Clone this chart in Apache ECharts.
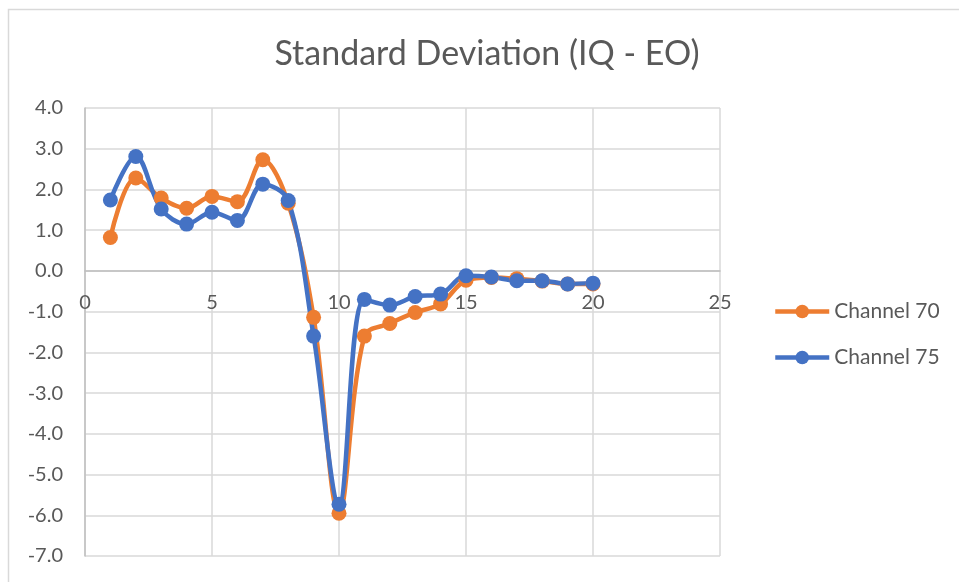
<!DOCTYPE html>
<html>
<head>
<meta charset="utf-8">
<script src="https://cdn.jsdelivr.net/npm/echarts@6/dist/echarts.min.js"></script>
<style>
  html, body { margin: 0; padding: 0; background: #ffffff; }
  #chart { width: 959px; height: 582px; }
</style>
</head>
<body>
<div id="chart"></div>
<script>
// Sample index along the horizontal axis
const samples = [1, 2, 3, 4, 5, 6, 7, 8, 9, 10, 11, 12, 13, 14, 15, 16, 17, 18, 19, 20];

// Standard deviation (IQ - EO) per channel
const channel70 = [0.82, 2.28, 1.79, 1.54, 1.83, 1.70, 2.73, 1.66, -1.14, -5.95,
                   -1.60, -1.29, -1.02, -0.81, -0.23, -0.16, -0.19, -0.25, -0.32, -0.32];
const channel75 = [1.74, 2.81, 1.52, 1.15, 1.44, 1.24, 2.13, 1.73, -1.60, -5.73,
                   -0.70, -0.84, -0.63, -0.57, -0.12, -0.15, -0.24, -0.24, -0.32, -0.30];

const seriesNames = ['Channel 70', 'Channel 75'];
const seriesColors = ['#ED7D31', '#4472C4'];

const FONT = 'Lato, "Open Sans", sans-serif';
const TEXT = '#595959';

// Plot area geometry and value range
const GRID = { left: 85, top: 108, width: 635, height: 448 };
const Y_MIN = -7, Y_MAX = 4;
// Distance from the bottom of the plot area up to the zero line, so the
// horizontal axis (line and labels) crosses the vertical axis at 0.
const zeroOffset = -GRID.height * (0 - Y_MIN) / (Y_MAX - Y_MIN);

const pairs = (vals) => samples.map((x, i) => [x, vals[i]]);

const makeSeries = (name, vals, color) => ({
  name,
  type: 'line',
  data: pairs(vals),
  smooth: 0.35,
  symbol: 'circle',
  symbolSize: 15,
  lineStyle: { color, width: 4.5 },
  itemStyle: { color },
  emphasis: { disabled: true }
});

const chart = echarts.init(document.getElementById('chart'), null, { renderer: 'canvas' });
chart.setOption({
  animation: false,
  backgroundColor: '#ffffff',
  title: {
    text: 'Standard Deviation (IQ - EO)',
    left: 482,
    top: 32,
    textAlign: 'center',
    textStyle: { fontFamily: FONT, fontSize: 34, fontWeight: 'normal', color: TEXT }
  },
  graphic: [{
    type: 'rect',
    shape: { x: 8.5, y: 9.5, width: 1000, height: 700 },
    style: { fill: 'none', stroke: '#d9d9d9', lineWidth: 1.5 },
    silent: true,
    z: -1
  }],
  legend: {
    orient: 'vertical',
    left: 773,
    top: 301,
    padding: 0,
    itemWidth: 54,
    itemHeight: 17,
    itemGap: 25,
    data: seriesNames,
    lineStyle: { width: 4.5 },
    textStyle: { fontFamily: FONT, fontSize: 21, color: TEXT, padding: [0, 0, 0, 0] }
  },
  grid: { left: GRID.left, top: GRID.top, width: GRID.width, height: GRID.height, containLabel: false },
  xAxis: {
    type: 'value',
    min: 0,
    max: 25,
    interval: 5,
    position: 'bottom',
    offset: zeroOffset,
    axisLine: { onZero: false, lineStyle: { color: '#bfbfbf', width: 1.5 } },
    axisTick: { show: false },
    axisLabel: { fontFamily: FONT, fontSize: 20, color: TEXT, margin: 22 },
    splitLine: { show: true, lineStyle: { color: '#d9d9d9', width: 1.5 } }
  },
  yAxis: {
    type: 'value',
    min: Y_MIN,
    max: Y_MAX,
    interval: 1,
    axisLine: { show: true, onZero: false, lineStyle: { color: '#bfbfbf', width: 1.5 } },
    axisTick: { show: false },
    axisLabel: {
      fontFamily: FONT, fontSize: 20, color: TEXT, margin: 22,
      formatter: (v) => v.toFixed(1)
    },
    splitLine: { show: true, lineStyle: { color: '#d9d9d9', width: 1.5 } }
  },
  series: [
    makeSeries(seriesNames[0], channel70, seriesColors[0]),
    makeSeries(seriesNames[1], channel75, seriesColors[1])
  ]
});
</script>
</body>
</html>
